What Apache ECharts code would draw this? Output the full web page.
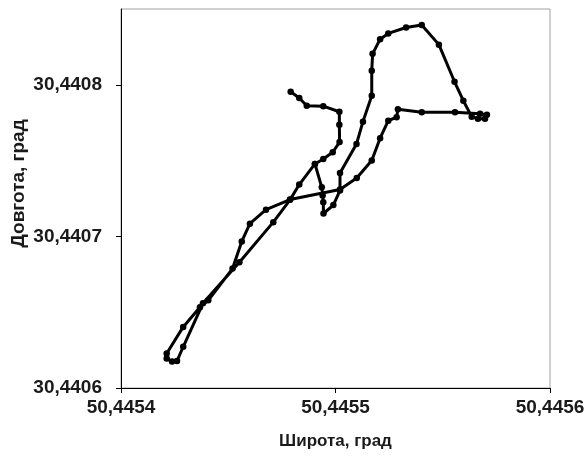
<!DOCTYPE html>
<html>
<head>
<meta charset="utf-8">
<script src="https://cdn.jsdelivr.net/npm/echarts@6/dist/echarts.min.js"></script>
<style>
html,body{margin:0;padding:0;background:#fff;}
#chart{width:585px;height:462px;}
</style>
</head>
<body>
<div id="chart"></div>
<script>
// Track points in path order: latitude (x) and longitude (y)
const lat = [
  50.4454791, 50.4454831, 50.4454866, 50.4454943, 50.4455018, 50.4455018, 50.4455019, 50.4454987,
  50.4454943, 50.4454904, 50.4454936, 50.4454940, 50.4454943, 50.4454944, 50.4454990, 50.4455021,
  50.4455021, 50.4455098, 50.4455128, 50.4455169, 50.4455169, 50.4455173, 50.4455208, 50.4455246,
  50.4455329, 50.4455402, 50.4455482, 50.4455555, 50.4455596, 50.4455635, 50.4455664, 50.4455697,
  50.4455706, 50.4455674, 50.4455557, 50.4455402, 50.4455291, 50.4455285, 50.4455246, 50.4455208,
  50.4455169, 50.4455099, 50.4455021, 50.4454788, 50.4454676, 50.4454601, 50.4454563, 50.4454520,
  50.4454407, 50.4454368, 50.4454290, 50.4454213, 50.4454213, 50.4454238, 50.4454261, 50.4454290,
  50.4454382, 50.4454552, 50.4454710, 50.4454788, 50.4454831, 50.4454904
];
const lon = [
  30.4407954, 30.4407913, 30.4407862, 30.4407859, 30.4407822, 30.4407737, 30.4407622, 30.4407555,
  30.4407511, 30.4407478, 30.4407324, 30.4407270, 30.4407226, 30.4407151, 30.4407207, 30.4407303,
  30.4407418, 30.4407610, 30.4407757, 30.4407928, 30.4408092, 30.4408204, 30.4408301, 30.4408339,
  30.4408378, 30.4408395, 30.4408265, 30.4408020, 30.4407895, 30.4407790, 30.4407776, 30.4407776,
  30.4407803, 30.4407809, 30.4407819, 30.4407819, 30.4407838, 30.4407786, 30.4407763, 30.4407648,
  30.4407500, 30.4407385, 30.4407309, 30.4407243, 30.4407176, 30.4407084, 30.4406967, 30.4406788,
  30.4406579, 30.4406533, 30.4406403, 30.4406228, 30.4406195, 30.4406174, 30.4406178, 30.4406272,
  30.4406559, 30.4406829, 30.4407094, 30.4407241, 30.4407342, 30.4407478
];
const xTicks = [50.4454, 50.4455, 50.4456];
const yTicks = [30.4406, 30.4407, 30.4408];
const xName = 'Широта, град';
const yName = 'Довгота, град';

const points = lat.map((v, i) => [v, lon[i]]);
const fmt = v => Number(v).toFixed(4).replace('.', ',');
const font = 'Liberation Sans, Arial, sans-serif';

const chart = echarts.init(document.getElementById('chart'), null, {renderer: 'canvas'});
chart.setOption({
  animation: false,
  backgroundColor: '#fff',
  grid: {
    left: 121, right: 35, top: 9, bottom: 74,
    containLabel: false, outerBoundsMode: 'none',
    show: true, borderColor: '#a0a0a0', borderWidth: 1, backgroundColor: 'transparent'
  },
  xAxis: {
    type: 'value',
    min: xTicks[0], max: xTicks[xTicks.length - 1],
    name: xName, nameLocation: 'middle', nameGap: 45, nameMoveOverlap: false,
    nameTextStyle: {fontFamily: font, fontWeight: 'bold', fontSize: 17, color: '#1a1a1a'},
    axisLine: {show: true, onZero: false, lineStyle: {color: '#000', width: 1}},
    axisTick: {show: true, inside: false, length: 5, customValues: xTicks, lineStyle: {color: '#000'}},
    axisLabel: {
      show: true, margin: 10, customValues: xTicks, formatter: fmt,
      fontFamily: font, fontWeight: 'bold', fontSize: 19, color: '#1a1a1a'
    },
    splitLine: {show: false}
  },
  yAxis: {
    type: 'value',
    min: yTicks[0], max: 30.44085,
    name: yName, nameLocation: 'middle', nameGap: 93, nameRotate: 90, nameMoveOverlap: false,
    nameTextStyle: {fontFamily: font, fontWeight: 'bold', fontSize: 19, color: '#1a1a1a', padding: [0, 0, 0, 30]},
    axisLine: {show: true, onZero: false, lineStyle: {color: '#000', width: 1}},
    axisTick: {show: true, inside: false, length: 5, customValues: yTicks, lineStyle: {color: '#000'}},
    axisLabel: {
      show: true, margin: 19, customValues: yTicks, formatter: fmt,
      fontFamily: font, fontWeight: 'bold', fontSize: 19, color: '#1a1a1a'
    },
    splitLine: {show: false}
  },
  series: [{
    type: 'line',
    data: points,
    showSymbol: true,
    showAllSymbol: true,
    symbol: 'circle',
    symbolSize: 6.5,
    itemStyle: {color: '#000'},
    lineStyle: {color: '#000', width: 3},
    smooth: false,
    clip: false
  }]
});
</script>
</body>
</html>
